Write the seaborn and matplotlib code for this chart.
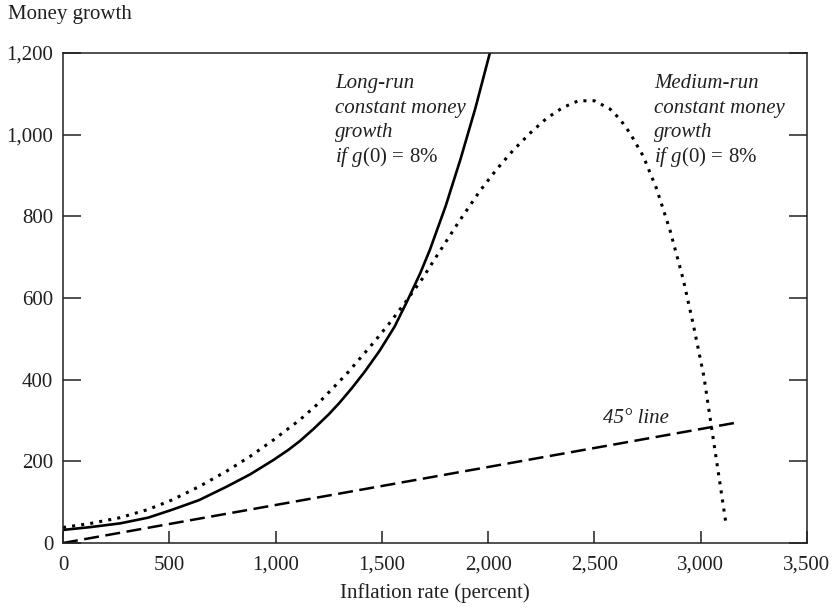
import matplotlib
matplotlib.use("Agg")
import matplotlib.pyplot as plt
import matplotlib.ticker as mticker
import seaborn as sns

# ---- data ----
inflation_long = [0, 130, 268, 400, 511, 640, 770, 880, 989, 1060, 1115, 1180, 1250,
                  1300, 1360, 1420, 1491, 1560, 1617, 1680, 1726, 1800, 1870, 1940, 2008]
money_long = [32, 39, 48, 62, 81, 105, 138, 168, 203, 228, 250, 280, 315,
              343, 380, 420, 472, 530, 590, 660, 718, 825, 940, 1065, 1200]

inflation_medium = [0, 130, 268, 400, 511, 640, 770, 880, 989, 1115, 1193, 1334, 1460,
                    1540, 1617, 1690, 1757, 1860, 1961, 2040, 2118, 2200, 2275, 2350,
                    2424, 2500, 2573, 2620, 2667, 2730, 2792, 2855, 2918, 2965, 3015,
                    3046, 3085, 3121]
money_medium = [38, 48, 62, 82, 105, 138, 176, 212, 252, 302, 338, 414, 490,
                541, 594, 647, 702, 785, 862, 915, 962, 1005, 1040, 1066,
                1083, 1083, 1063, 1038, 1004, 947, 868, 767, 645, 535, 408,
                300, 165, 40]

inflation_45 = [0, 3170]
money_45 = [0, 295]

x_ticks = [0, 500, 1000, 1500, 2000, 2500, 3000, 3500]
y_ticks = [0, 200, 400, 600, 800, 1000, 1200]

TXT = "#231f20"

sns.set_theme(style="ticks")
plt.rcParams["font.family"] = ["Liberation Serif", "DejaVu Serif"]
plt.rcParams["mathtext.fontset"] = "custom"
plt.rcParams["mathtext.rm"] = "Liberation Serif"
plt.rcParams["mathtext.it"] = "Liberation Serif:italic"

fig = plt.figure(figsize=(8.39, 6.10), dpi=100)
ax = fig.add_axes([63 / 839, 67 / 610, 744 / 839, 490 / 610])

sns.lineplot(x=inflation_long, y=money_long, ax=ax, color="black", lw=1.9,
             estimator=None, sort=False)
sns.lineplot(x=inflation_medium, y=money_medium, ax=ax, color="black", lw=2.2,
             linestyle=(0, (1, 2)), estimator=None, sort=False)
sns.lineplot(x=inflation_45, y=money_45, ax=ax, color="black", lw=1.8,
             linestyle=(0, (6, 2.6)), estimator=None, sort=False)

ax.set_xlim(0, 3500)
ax.set_ylim(0, 1200)
ax.set_xticks(x_ticks)
ax.set_yticks(y_ticks)
fmt = mticker.StrMethodFormatter("{x:,.0f}")
ax.xaxis.set_major_formatter(fmt)
ax.yaxis.set_major_formatter(fmt)

for s in ax.spines.values():
    s.set_visible(True)
    s.set_linewidth(1.1)
    s.set_color(TXT)

ax.tick_params(axis="y", direction="in", length=13, width=1.1, color=TXT,
               left=True, right=True, labelright=False, labelsize=15,
               labelcolor=TXT, pad=7)
ax.tick_params(axis="x", direction="in", length=9, width=1.1, color=TXT,
               bottom=True, top=False, labelsize=15, labelcolor=TXT, pad=9)

ax.set_xlabel("Inflation rate (percent)", fontsize=15, color=TXT, labelpad=6)
ax.set_ylabel("")
fig.text(8 / 839, 1 - 15 / 610, "Money growth", fontsize=15, color=TXT,
         ha="left", va="center")

# annotations
line_y = [1115, 1054, 995, 934]
for xpos, first in [(1279, "Long-run"), (2780, "Medium-run")]:
    ax.text(xpos, line_y[0], first, fontsize=15, style="italic", color=TXT, va="baseline")
    ax.text(xpos, line_y[1], "constant money", fontsize=15, style="italic", color=TXT, va="baseline")
    ax.text(xpos, line_y[2], "growth", fontsize=15, style="italic", color=TXT, va="baseline")
    ax.text(xpos, line_y[3], r"$\mathit{if\ g}\mathrm{(0)}\,=\,\mathrm{8\%}$", fontsize=15,
            color=TXT, va="baseline")

ax.text(2539, 295, "45° line", fontsize=15, style="italic", color=TXT, va="baseline")

fig.savefig("out.png", dpi=100)
